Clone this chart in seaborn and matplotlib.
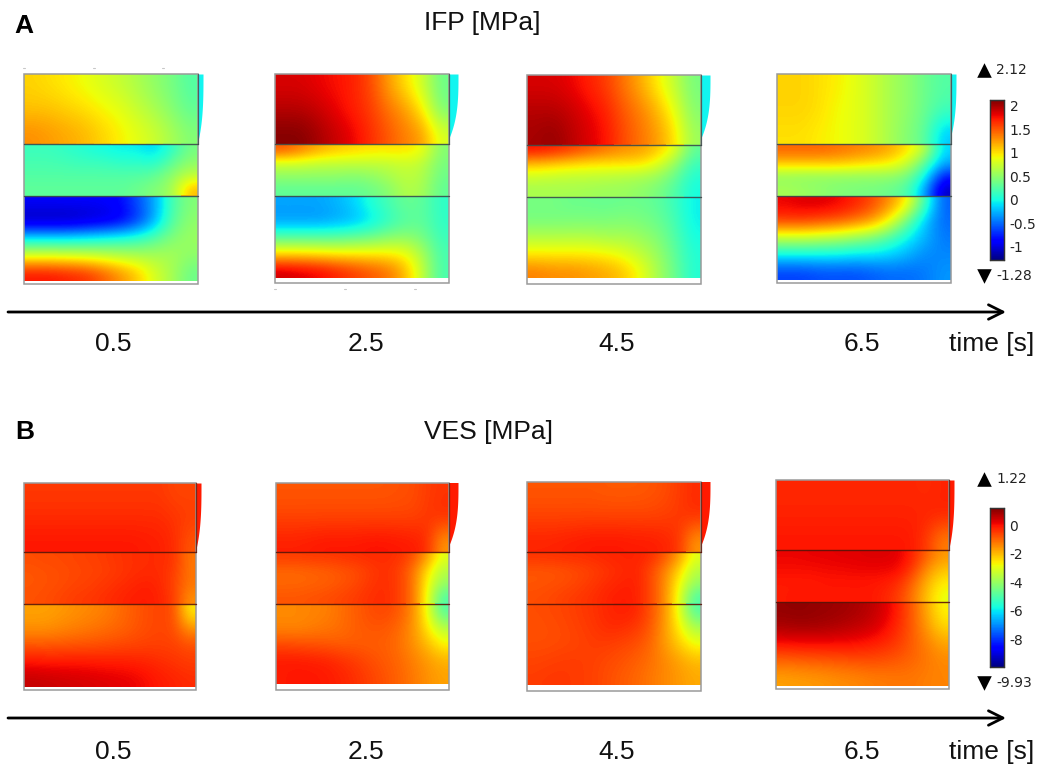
import numpy as np
import pandas as pd
import matplotlib
matplotlib.use("Agg")
import matplotlib.pyplot as plt
from matplotlib.patches import Rectangle
import seaborn as sns

sns.set_style("white")
plt.rcParams['font.family'] = ['Liberation Sans', 'DejaVu Sans']

times = ["0.5", "2.5", "4.5", "6.5"]
ifp_title = "IFP [MPa]"
ves_title = "VES [MPa]"
ifp_range = (-1.28, 2.12)
ves_range = (-9.93, 1.22)
ifp_ticks = [2, 1.5, 1, 0.5, 0, -0.5, -1]
ves_ticks = [0, -2, -4, -6, -8]

# rows: 3 upper layer, 4 middle layer, 5 lower layer
ifp_05 = [
 [1.05,1.0,0.95,0.88,0.8,0.72,0.62,0.5,0.4,0.25],
 [1.1,1.1,1.05,1.0,0.92,0.85,0.72,0.6,0.45,0.3],
 [1.3,1.25,1.2,1.15,1.05,0.95,0.85,0.75,0.6,0.45],
 [0.15,0.15,0.1,0.05,0.0,-0.05,-0.05,-0.15,0.1,0.4],
 [0.2,0.2,0.18,0.15,0.15,0.1,0.1,0.05,0.3,0.5],
 [0.25,0.25,0.25,0.25,0.25,0.25,0.25,0.3,0.5,0.7],
 [0.3,0.3,0.3,0.3,0.3,0.3,0.35,0.45,0.55,1.15],
 [-0.9,-0.9,-0.9,-0.9,-0.9,-0.85,-0.6,-0.3,0.2,0.45],
 [-1.15,-1.15,-1.15,-1.1,-1.05,-0.95,-0.7,-0.3,0.25,0.5],
 [-0.1,-0.1,-0.1,-0.05,0.0,0.05,0.1,0.25,0.45,0.55],
 [0.8,0.8,0.78,0.75,0.7,0.65,0.62,0.6,0.6,0.5],
 [1.75,1.75,1.7,1.65,1.5,1.3,1.1,0.8,0.6,0.35],
]
ifp_25 = [
 [1.85,1.85,1.8,1.75,1.7,1.55,1.25,1.0,0.75,0.35],
 [1.95,1.95,1.9,1.8,1.7,1.6,1.4,1.25,0.95,0.4],
 [2.1,2.1,2.0,1.9,1.8,1.65,1.5,1.35,1.25,0.8],
 [1.5,1.35,1.2,1.1,1.05,1.0,1.0,1.0,0.9,0.45],
 [0.75,0.75,0.7,0.7,0.7,0.7,0.7,0.75,0.7,0.4],
 [0.5,0.5,0.5,0.5,0.45,0.5,0.6,0.7,0.65,0.35],
 [0.3,0.3,0.3,0.3,0.3,0.35,0.45,0.65,0.6,0.3],
 [-0.3,-0.3,-0.3,-0.25,-0.15,0.05,0.2,0.35,0.3,0.1],
 [-0.35,-0.35,-0.35,-0.3,-0.25,-0.1,0.1,0.25,0.3,0.1],
 [0.25,0.25,0.25,0.25,0.3,0.35,0.45,0.5,0.4,0.15],
 [1.0,1.0,0.98,0.95,0.95,0.95,0.95,0.9,0.6,0.2],
 [1.9,1.85,1.8,1.7,1.6,1.5,1.4,1.15,0.7,0.2],
]
ifp_45 = [
 [1.85,1.85,1.8,1.7,1.6,1.4,1.2,0.95,0.7,0.4],
 [1.95,1.95,1.9,1.8,1.7,1.5,1.35,1.15,0.85,0.45],
 [2.0,2.05,1.95,1.85,1.75,1.55,1.4,1.25,1.0,0.55],
 [1.75,1.7,1.6,1.5,1.4,1.3,1.25,1.1,0.85,0.3],
 [1.15,1.1,1.05,1.0,1.0,1.0,1.0,0.85,0.55,0.15],
 [0.75,0.72,0.7,0.7,0.68,0.65,0.62,0.55,0.35,0.05],
 [0.6,0.6,0.6,0.58,0.55,0.55,0.5,0.42,0.25,0.0],
 [0.4,0.4,0.35,0.35,0.33,0.35,0.35,0.3,0.15,-0.05],
 [0.4,0.4,0.42,0.42,0.42,0.45,0.42,0.35,0.2,-0.05],
 [0.65,0.65,0.65,0.65,0.6,0.6,0.55,0.45,0.25,0.0],
 [0.95,0.95,0.95,0.95,0.92,0.85,0.7,0.55,0.3,0.05],
 [1.35,1.3,1.3,1.25,1.2,1.1,0.9,0.6,0.35,0.05],
]
ifp_65 = [
 [1.05,1.05,1.0,0.95,0.85,0.75,0.6,0.5,0.35,0.25],
 [1.05,1.05,1.0,0.9,0.85,0.75,0.6,0.5,0.35,0.2],
 [1.0,1.0,0.95,0.9,0.85,0.75,0.6,0.45,0.3,-0.2],
 [1.45,1.45,1.45,1.4,1.35,1.3,1.2,1.0,0.7,-0.15],
 [1.1,1.1,1.1,1.1,1.05,1.0,0.95,0.75,0.3,-0.3],
 [0.5,0.5,0.5,0.5,0.5,0.5,0.5,0.4,0.0,-0.8],
 [0.6,0.55,0.5,0.45,0.42,0.4,0.35,0.25,-0.3,-1.1],
 [1.8,1.85,1.85,1.8,1.7,1.55,1.3,0.95,0.2,-0.55],
 [1.6,1.6,1.55,1.5,1.4,1.25,0.9,0.35,-0.2,-0.5],
 [0.7,0.7,0.65,0.6,0.5,0.4,0.2,-0.05,-0.25,-0.45],
 [-0.05,-0.05,-0.05,-0.05,-0.1,-0.1,-0.15,-0.25,-0.4,-0.4],
 [-0.65,-0.65,-0.6,-0.6,-0.6,-0.55,-0.5,-0.5,-0.45,-0.35],
]
ves_05 = [
 [-0.45,-0.45,-0.45,-0.45,-0.45,-0.45,-0.45,-0.45,-0.45,-0.45,-0.6,-0.6],
 [-0.3,-0.3,-0.3,-0.3,-0.3,-0.3,-0.3,-0.3,-0.3,-0.3,-0.4,-0.5],
 [-0.05,-0.05,-0.05,-0.05,-0.05,-0.05,-0.05,-0.05,-0.1,-0.15,-0.3,-0.8],
 [-0.7,-0.65,-0.65,-0.6,-0.55,-0.5,-0.4,-0.35,-0.3,-0.3,-0.4,-1.2],
 [-0.8,-0.75,-0.7,-0.65,-0.6,-0.55,-0.45,-0.35,-0.3,-0.3,-0.5,-1.2],
 [-0.8,-0.75,-0.7,-0.6,-0.55,-0.45,-0.35,-0.25,-0.15,-0.25,-0.6,-1.2],
 [-0.75,-0.7,-0.6,-0.5,-0.45,-0.35,-0.25,-0.15,-0.1,-0.2,-0.5,-1.5],
 [-1.7,-1.7,-1.6,-1.5,-1.4,-1.3,-1.1,-0.9,-0.7,-0.6,-0.7,-2.6],
 [-1.5,-1.5,-1.4,-1.3,-1.2,-1.1,-1.0,-0.85,-0.7,-0.6,-0.7,-1.5],
 [-0.8,-0.8,-0.8,-0.75,-0.75,-0.7,-0.65,-0.6,-0.55,-0.55,-0.55,-0.7],
 [0.0,-0.05,-0.05,-0.05,-0.05,-0.1,-0.1,-0.15,-0.2,-0.3,-0.4,-0.5],
 [0.55,0.5,0.45,0.4,0.35,0.3,0.25,0.2,0.05,-0.1,-0.2,-0.3],
]
ves_25 = [
 [-0.8,-0.8,-0.8,-0.8,-0.8,-0.8,-0.8,-0.8,-0.75,-0.7,-0.5,-0.4],
 [-0.6,-0.6,-0.6,-0.6,-0.6,-0.6,-0.6,-0.6,-0.6,-0.6,-0.45,-0.3],
 [-0.15,-0.15,-0.1,-0.05,-0.05,-0.05,0.0,0.0,-0.05,-0.1,-0.3,-1.6],
 [-0.5,-0.5,-0.45,-0.45,-0.4,-0.35,-0.3,-0.3,-0.35,-0.7,-1.6,-3.0],
 [-1.0,-1.0,-0.95,-0.9,-0.8,-0.7,-0.5,-0.35,-0.5,-1.1,-2.4,-3.6],
 [-1.0,-1.0,-0.95,-0.9,-0.8,-0.65,-0.45,-0.3,-0.5,-1.1,-2.7,-4.0],
 [-0.8,-0.8,-0.75,-0.7,-0.6,-0.5,-0.35,-0.3,-0.5,-1.1,-2.8,-5.0],
 [-1.4,-1.4,-1.35,-1.3,-1.1,-0.9,-0.7,-0.6,-0.8,-1.4,-2.8,-5.0],
 [-1.4,-1.4,-1.3,-1.2,-1.1,-0.9,-0.8,-0.8,-1.0,-1.5,-2.5,-3.6],
 [-0.7,-0.75,-0.8,-0.85,-0.9,-0.9,-0.9,-0.9,-1.1,-1.5,-2.0,-2.7],
 [-0.1,-0.1,-0.15,-0.2,-0.35,-0.5,-0.7,-0.85,-1.0,-1.3,-1.6,-1.9],
 [-0.1,-0.05,-0.05,-0.1,-0.2,-0.35,-0.55,-0.75,-0.95,-1.2,-1.5,-1.7],
]
ves_45 = [
 [-0.8,-0.8,-0.8,-0.8,-0.8,-0.85,-0.85,-0.85,-0.8,-0.7,-0.5,-0.3],
 [-0.6,-0.6,-0.6,-0.6,-0.6,-0.6,-0.6,-0.6,-0.6,-0.55,-0.45,-0.3],
 [-0.2,-0.2,-0.15,-0.1,-0.05,-0.05,-0.05,-0.1,-0.1,-0.2,-0.4,-1.6],
 [-0.4,-0.4,-0.35,-0.35,-0.3,-0.25,-0.2,-0.2,-0.3,-0.8,-1.6,-3.0],
 [-0.8,-0.8,-0.75,-0.65,-0.55,-0.4,-0.3,-0.2,-0.6,-1.3,-2.3,-3.6],
 [-0.8,-0.75,-0.7,-0.6,-0.45,-0.3,-0.2,-0.15,-0.6,-1.4,-2.7,-4.0],
 [-0.7,-0.65,-0.55,-0.45,-0.35,-0.2,-0.1,-0.15,-0.6,-1.4,-2.9,-5.0],
 [-0.7,-0.65,-0.6,-0.5,-0.4,-0.25,-0.15,-0.2,-0.7,-1.5,-2.9,-5.0],
 [-0.75,-0.7,-0.65,-0.55,-0.45,-0.3,-0.3,-0.45,-0.8,-1.6,-2.6,-3.7],
 [-0.7,-0.7,-0.65,-0.6,-0.5,-0.5,-0.6,-0.7,-1.0,-1.6,-2.2,-2.8],
 [-0.6,-0.55,-0.5,-0.5,-0.55,-0.65,-0.75,-0.9,-1.1,-1.4,-1.7,-2.0],
 [-0.5,-0.45,-0.45,-0.5,-0.55,-0.7,-0.85,-1.0,-1.2,-1.4,-1.6,-1.8],
]
ves_65 = [
 [-0.25,-0.25,-0.25,-0.25,-0.25,-0.25,-0.25,-0.25,-0.25,-0.25,-0.3,-0.2],
 [-0.2,-0.2,-0.2,-0.2,-0.2,-0.2,-0.2,-0.2,-0.2,-0.2,-0.2,-0.2],
 [-0.05,-0.05,-0.05,-0.05,-0.05,-0.05,-0.05,-0.05,-0.05,-0.1,-0.5,-1.3],
 [0.15,0.15,0.2,0.2,0.25,0.25,0.3,0.3,0.25,-0.2,-1.0,-1.6],
 [0.05,0.05,0.05,0.1,0.1,0.15,0.15,0.15,0.1,-0.5,-1.5,-2.1],
 [-0.1,-0.1,-0.1,-0.05,-0.05,-0.05,-0.05,-0.1,-0.3,-1.0,-1.9,-2.6],
 [-0.1,-0.05,-0.05,-0.05,-0.05,-0.05,-0.05,-0.2,-0.5,-1.2,-2.1,-2.9],
 [1.0,1.05,1.0,0.95,0.9,0.8,0.65,0.35,-0.15,-0.9,-1.8,-2.7],
 [0.8,0.85,0.85,0.8,0.7,0.6,0.45,0.15,-0.3,-0.9,-1.6,-2.3],
 [0.0,0.05,0.05,0.05,0.05,0.0,-0.1,-0.25,-0.5,-0.9,-1.3,-1.7],
 [-1.0,-0.95,-0.9,-0.85,-0.8,-0.75,-0.7,-0.75,-0.85,-1.0,-1.2,-1.4],
 [-1.7,-1.65,-1.6,-1.55,-1.45,-1.4,-1.3,-1.25,-1.2,-1.2,-1.3,-1.35],
]

W, H = 1041, 765
fig = plt.figure(figsize=(W / 100, H / 100), dpi=100, facecolor="white")


def add_px_axes(x0, y0, x1, y1):
    return fig.add_axes([x0 / W, 1 - y1 / H, (x1 - x0) / W, (y1 - y0) / H])


# x0, x1, y_top, line1, line2, image bottom, box bottom, wedge width, wedge end
geom_a = [(24, 198, 74, 143.5, 195.5, 281, 284, 5, 141),
          (275, 449, 74, 144, 196, 278, 283, 9, 138),
          (527, 701, 75, 144.5, 196.5, 278, 284, 9, 138),
          (777, 951, 74, 144, 196, 280, 283, 5, 135)]
geom_b = [(24, 196, 483, 552, 604, 687, 690, 5, 549),
          (276, 449, 482.5, 552, 603.5, 684, 689.5, 9, 545),
          (527, 701, 481.5, 551.5, 603.5, 685, 691, 9, 545),
          (776, 949, 480, 550, 602, 686, 689, 5, 548)]


def draw_panel(values, g, vrange, cbar_ax=None, cbar_ticks=None):
    x0, x1, y0, l1, l2, yb, _, _, _ = g
    arr = np.array(values)
    slices = [(arr[:3], y0, l1), (arr[3:7], l1, l2), (arr[7:], l2, yb)]
    for i, (part, ya, yz) in enumerate(slices):
        ax = add_px_axes(x0, ya, x1, yz)
        use_cbar = (i == 0) and cbar_ax is not None
        kws = dict(cbar=use_cbar, xticklabels=False, yticklabels=False,
                   cmap="jet", vmin=vrange[0], vmax=vrange[1])
        if use_cbar:
            kws.update(cbar_ax=cbar_ax, cbar_kws=dict(ticks=cbar_ticks))
        sns.heatmap(pd.DataFrame(part), ax=ax, **kws)
        nr, nc = part.shape
        ax.imshow(part, extent=(0, nc, nr, 0), cmap="jet", vmin=vrange[0], vmax=vrange[1],
                  interpolation="bicubic", interpolation_stage="data", aspect="auto", zorder=3)
        ax.set_xlim(0, nc)
        ax.set_ylim(nr, 0)
        ax.axis("off")


cax_a = add_px_axes(990, 100, 1004, 260)
cax_b = add_px_axes(990, 508, 1004, 667)

for k, (vals, g) in enumerate(zip([ifp_05, ifp_25, ifp_45, ifp_65], geom_a)):
    draw_panel(vals, g, ifp_range, cax_a if k == 0 else None, ifp_ticks)
for k, (vals, g) in enumerate(zip([ves_05, ves_25, ves_45, ves_65], geom_b)):
    draw_panel(vals, g, ves_range, cax_b if k == 0 else None, ves_ticks)

for cax, ticks in ((cax_a, ifp_ticks), (cax_b, ves_ticks)):
    cax.set_yticks(ticks)
    cax.set_yticklabels([f"{t:g}" for t in ticks], family="DejaVu Sans", fontsize=10, color="#222222")
    cax.tick_params(axis="y", direction="in", length=3, width=0.7, left=True, right=True,
                    pad=4, color="#222222")
    for sp in cax.spines.values():
        sp.set_visible(True)
        sp.set_linewidth(0.9)
        sp.set_edgecolor("#333333")

# overlay in reference pixel units for frames, arrows and text
ov = fig.add_axes([0, 0, 1, 1], zorder=10)
ov.set_xlim(0, W)
ov.set_ylim(H, 0)
ov.axis("off")
ov.patch.set_alpha(0)

for geoms, wedge_color, line_color in ((geom_a, "#12f5f0", "#3c4a4a"), (geom_b, "#ff1a00", "#5a1408")):
    for x0, x1, y0, l1, l2, yb, ybox, ww, wend in geoms:
        t = np.linspace(0, 1, 40)
        yy = y0 + t * (wend - y0)
        ov.fill_betweenx(yy, x1, x1 + ww * (1 - t ** 3), color=wedge_color, lw=0)
        ov.add_patch(Rectangle((x0, y0), x1 - x0, ybox - y0, fill=False, ec="#9a9a9a", lw=1.1))
        ov.plot([x1, x1], [y0, l1], color=line_color, lw=0.9, alpha=0.8)
        ov.plot([x0, x1], [l1, l1], color=line_color, lw=1.0, alpha=0.9)
        ov.plot([x0, x1], [l2, l2], color=line_color, lw=1.0, alpha=0.9)

# small stray ticks of the original export
for x, y in [(24, 68), (94, 68), (163, 68), (275, 289), (345, 289), (415, 289)]:
    ov.plot([x - 1, x + 1], [y, y], color="#c8c8c8", lw=0.8)

# time arrows
for y in (312, 718):
    ov.annotate("", xy=(1006, y), xytext=(8, y),
                arrowprops=dict(arrowstyle="->", color="black", lw=2, mutation_scale=26,
                                shrinkA=0, shrinkB=0))

centers = [113, 366, 617, 862]
for y in (344, 752):
    for cx, lab in zip(centers, times):
        ov.text(cx, y, lab, ha="center", va="center", fontsize=19, color="#111111")
    ov.text(992, y, "time [s]", ha="center", va="center", fontsize=19, color="#111111")

ov.text(482, 23, ifp_title, ha="center", va="center", fontsize=19, color="#111111")
ov.text(488, 432, ves_title, ha="center", va="center", fontsize=19, color="#111111")
ov.text(14, 26, "A", ha="left", va="center", fontsize=19, fontweight="bold", color="black")
ov.text(15, 432, "B", ha="left", va="center", fontsize=19, fontweight="bold", color="black")

# colour-range markers
for yt, yb, top, bot in ((70, 276, ifp_range[1], ifp_range[0]), (479, 683, ves_range[1], ves_range[0])):
    ov.scatter([984], [yt], marker="^", s=110, color="black", lw=0)
    ov.scatter([984], [yb], marker="v", s=110, color="black", lw=0)
    ov.text(996, yt, f"{top:.2f}", family="DejaVu Sans", fontsize=10, va="center", ha="left", color="#222222")
    ov.text(996, yb, f"{bot:.2f}", family="DejaVu Sans", fontsize=10, va="center", ha="left", color="#222222")

fig.savefig("out.png", dpi=100, facecolor="white")
